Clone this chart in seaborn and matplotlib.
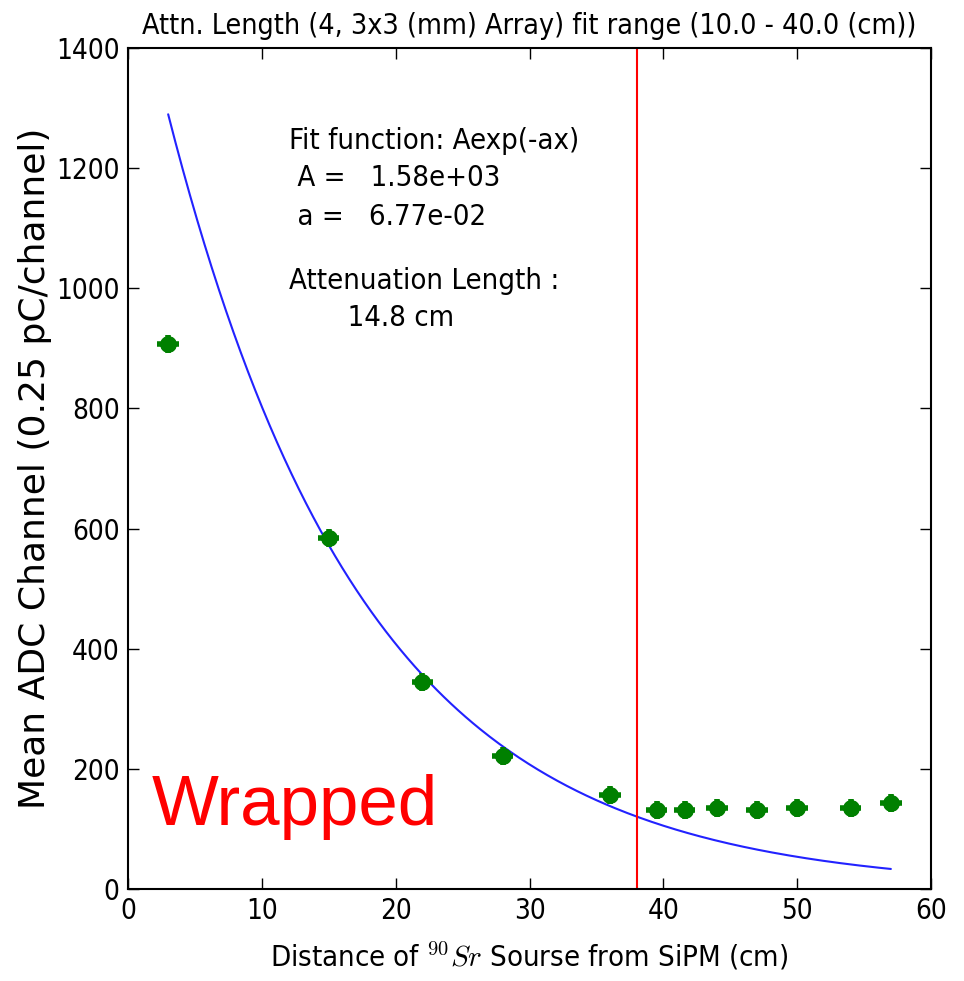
import numpy as np
import matplotlib
matplotlib.use("Agg")
import matplotlib.pyplot as plt
import seaborn as sns

# Measured points (distance in cm, mean ADC channel)
distance = [3, 15, 22, 28, 36, 39.5, 41.6, 44, 47, 50, 54, 57]
mean_adc = [907, 584, 345, 221, 156, 131, 131, 135, 131, 135, 135, 143]
x_err = [0.8] * len(distance)
y_err = [15] * len(distance)

# Fit result
fit_A = 1.58e3
fit_a = 6.77e-2
fit_start, fit_stop = 3, 57
cut_line = 38

fit_lines = ["Fit function: Aexp(-ax)", " A =   1.58e+03", " a =   6.77e-02"]
att_lines = ["Attenuation Length :", "       14.8 cm"]

sns.set_style("ticks", rc={'text.color': 'black', 'axes.labelcolor': 'black',
                           'xtick.color': 'black', 'ytick.color': 'black'})
plt.rcParams['font.family'] = ['DejaVu Sans']
plt.rcParams['font.stretch'] = 'condensed'
plt.rcParams['mathtext.fontset'] = 'cm'

fig = plt.figure(figsize=(9.64, 9.81), dpi=100)
ax = fig.add_axes([0.1328, 0.0938, 0.833, 0.8573])

fit_x = np.linspace(fit_start, fit_stop, 300)
fit_y = fit_A * np.exp(-fit_a * fit_x)
sns.lineplot(x=fit_x, y=fit_y, ax=ax, color='#2222ff', lw=1.5)

ax.errorbar(distance, mean_adc, xerr=x_err, yerr=y_err, fmt='o', color='green',
            ms=11, elinewidth=4, capsize=0, zorder=3)
sns.scatterplot(x=distance, y=mean_adc, ax=ax, color='green', s=120,
                edgecolor='green', zorder=4)

ax.axvline(cut_line, color='red', lw=1.5)

ax.set_xlim(0, 60)
ax.set_ylim(0, 1400)
ax.set_xticks(range(0, 61, 10))
ax.set_yticks(range(0, 1401, 200))
ax.tick_params(direction='in', top=True, right=True, length=8, width=1,
               labelsize=20, pad=6)
for s in ax.spines.values():
    s.set_linewidth(1.5)
    s.set_color('black')

ax.set_title("Attn. Length (4, 3x3 (mm) Array) fit range (10.0 - 40.0 (cm))",
             fontsize=20.5, pad=10)
ax.set_xlabel(r"Distance of $^{90}Sr$ Sourse from SiPM (cm)", fontsize=21,
              labelpad=11)
ax.set_ylabel("Mean ADC Channel (0.25 pC/channel)", fontsize=26, labelpad=3,
              fontstretch='normal')

for txt, yb in zip(fit_lines, [1232, 1170, 1106]):
    ax.text(12.0, yb, txt, fontsize=21, va='baseline')
for txt, yb in zip(att_lines, [998, 937]):
    ax.text(12.0, yb, txt, fontsize=21, va='baseline')

fig.text(152 / 964, 1 - 825 / 981, "Wrapped", color='red', fontsize=51,
         family=['Liberation Sans', 'DejaVu Sans'], fontstretch='normal',
         va='baseline')

fig.savefig("out.png", dpi=100)
